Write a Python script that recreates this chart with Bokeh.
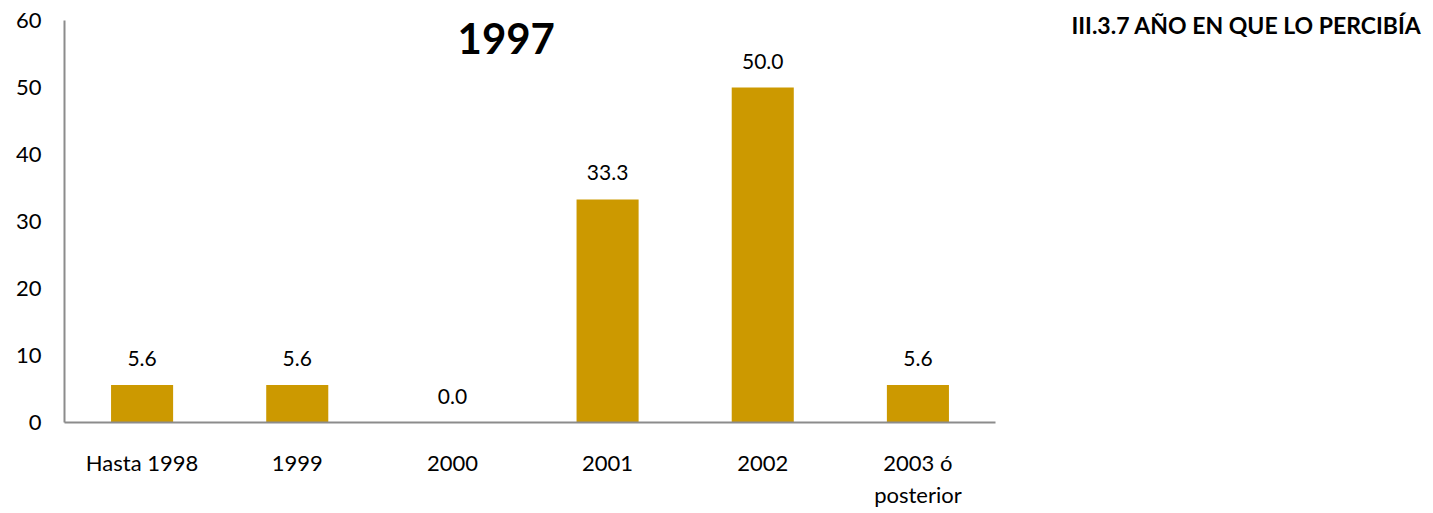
import numpy as np
from bokeh.plotting import figure
from bokeh.models import (Range1d, FixedTicker, ColumnDataSource,
                          LabelSet, Label)
from bokeh.core.properties import value
from bokeh.embed import file_html
from bokeh.resources import INLINE

categories = ["Hasta 1998", "1999", "2000", "2001", "2002", "2003 ó posterior"]
category_labels = ["Hasta 1998", "1999", "2000", "2001", "2002", "2003 ó\nposterior"]
values = [5.6, 5.6, 0.0, 33.3, 50.0, 5.6]
y_ticks = [0, 10, 20, 30, 40, 50, 60]
chart_year = "1997"
side_title = "III.3.7 AÑO EN QUE LO PERCIBÍA"

FONT = "Lato"
BAR = "#CC9900"

n = len(categories)
xpos = np.arange(n) + 0.5

# layout: bars occupy 931 px of a 1361 px wide frame; extra room on the right
CAT_PX = 931 / n
FRAME_W = 1361
FRAME_H = 412
Y_TOP = 60 * FRAME_H / 402

p = figure(
    x_range=Range1d(0, FRAME_W / CAT_PX),
    y_range=Range1d(0, Y_TOP),
    width=1425, height=505,
    frame_width=FRAME_W, frame_height=FRAME_H,
    min_border_left=64, min_border_top=10,
    min_border_right=0, min_border_bottom=83,
    output_backend="svg", toolbar_location=None,
)
p.outline_line_color = None
p.xgrid.grid_line_color = None
p.ygrid.grid_line_color = None

src = ColumnDataSource(dict(
    x=xpos, cat=categories, val=values, lbl=[f"{v:.1f}" for v in values]))

p.vbar(x="x", top="val", width=0.4, source=src, fill_color=BAR, line_color=None)

labels = LabelSet(x="x", y="val", text="lbl", source=src, y_offset=19,
                  text_align="center", text_baseline="bottom",
                  text_font=value(FONT), text_font_size=value("21px"),
                  text_color=value("#000000"))
p.add_layout(labels)

for ax in (p.xaxis[0], p.yaxis[0]):
    ax.axis_line_color = "#8c8c8c"
    ax.axis_line_width = 2
    ax.major_tick_line_color = None
    ax.minor_tick_line_color = None
    ax.major_label_text_font = FONT
    ax.major_label_text_font_size = "22px"
    ax.major_label_text_color = "#000000"

p.yaxis.ticker = FixedTicker(ticks=y_ticks)
p.yaxis.bounds = (0, 60)
p.yaxis.major_label_standoff = 17
p.xaxis.ticker = FixedTicker(ticks=list(xpos))
p.xaxis.bounds = (0, n)
p.xaxis.major_label_standoff = 20
p.xaxis.major_label_overrides = {float(x): l for x, l in zip(xpos, category_labels)}

p.add_layout(Label(x=2.847, y=57.25, text=chart_year, text_align="center",
                   text_baseline="middle", text_font=FONT, text_font_style="bold",
                   text_font_size="42px", text_color="#000000"))

p.add_layout(Label(x=(1421 - 64) / CAT_PX, y=59.4, text=side_title, text_align="right",
                   text_baseline="middle", text_font=FONT, text_font_style="bold",
                   text_font_size="23px", text_color="#000000"))

open("out.html", "w").write(file_html(p, INLINE))
